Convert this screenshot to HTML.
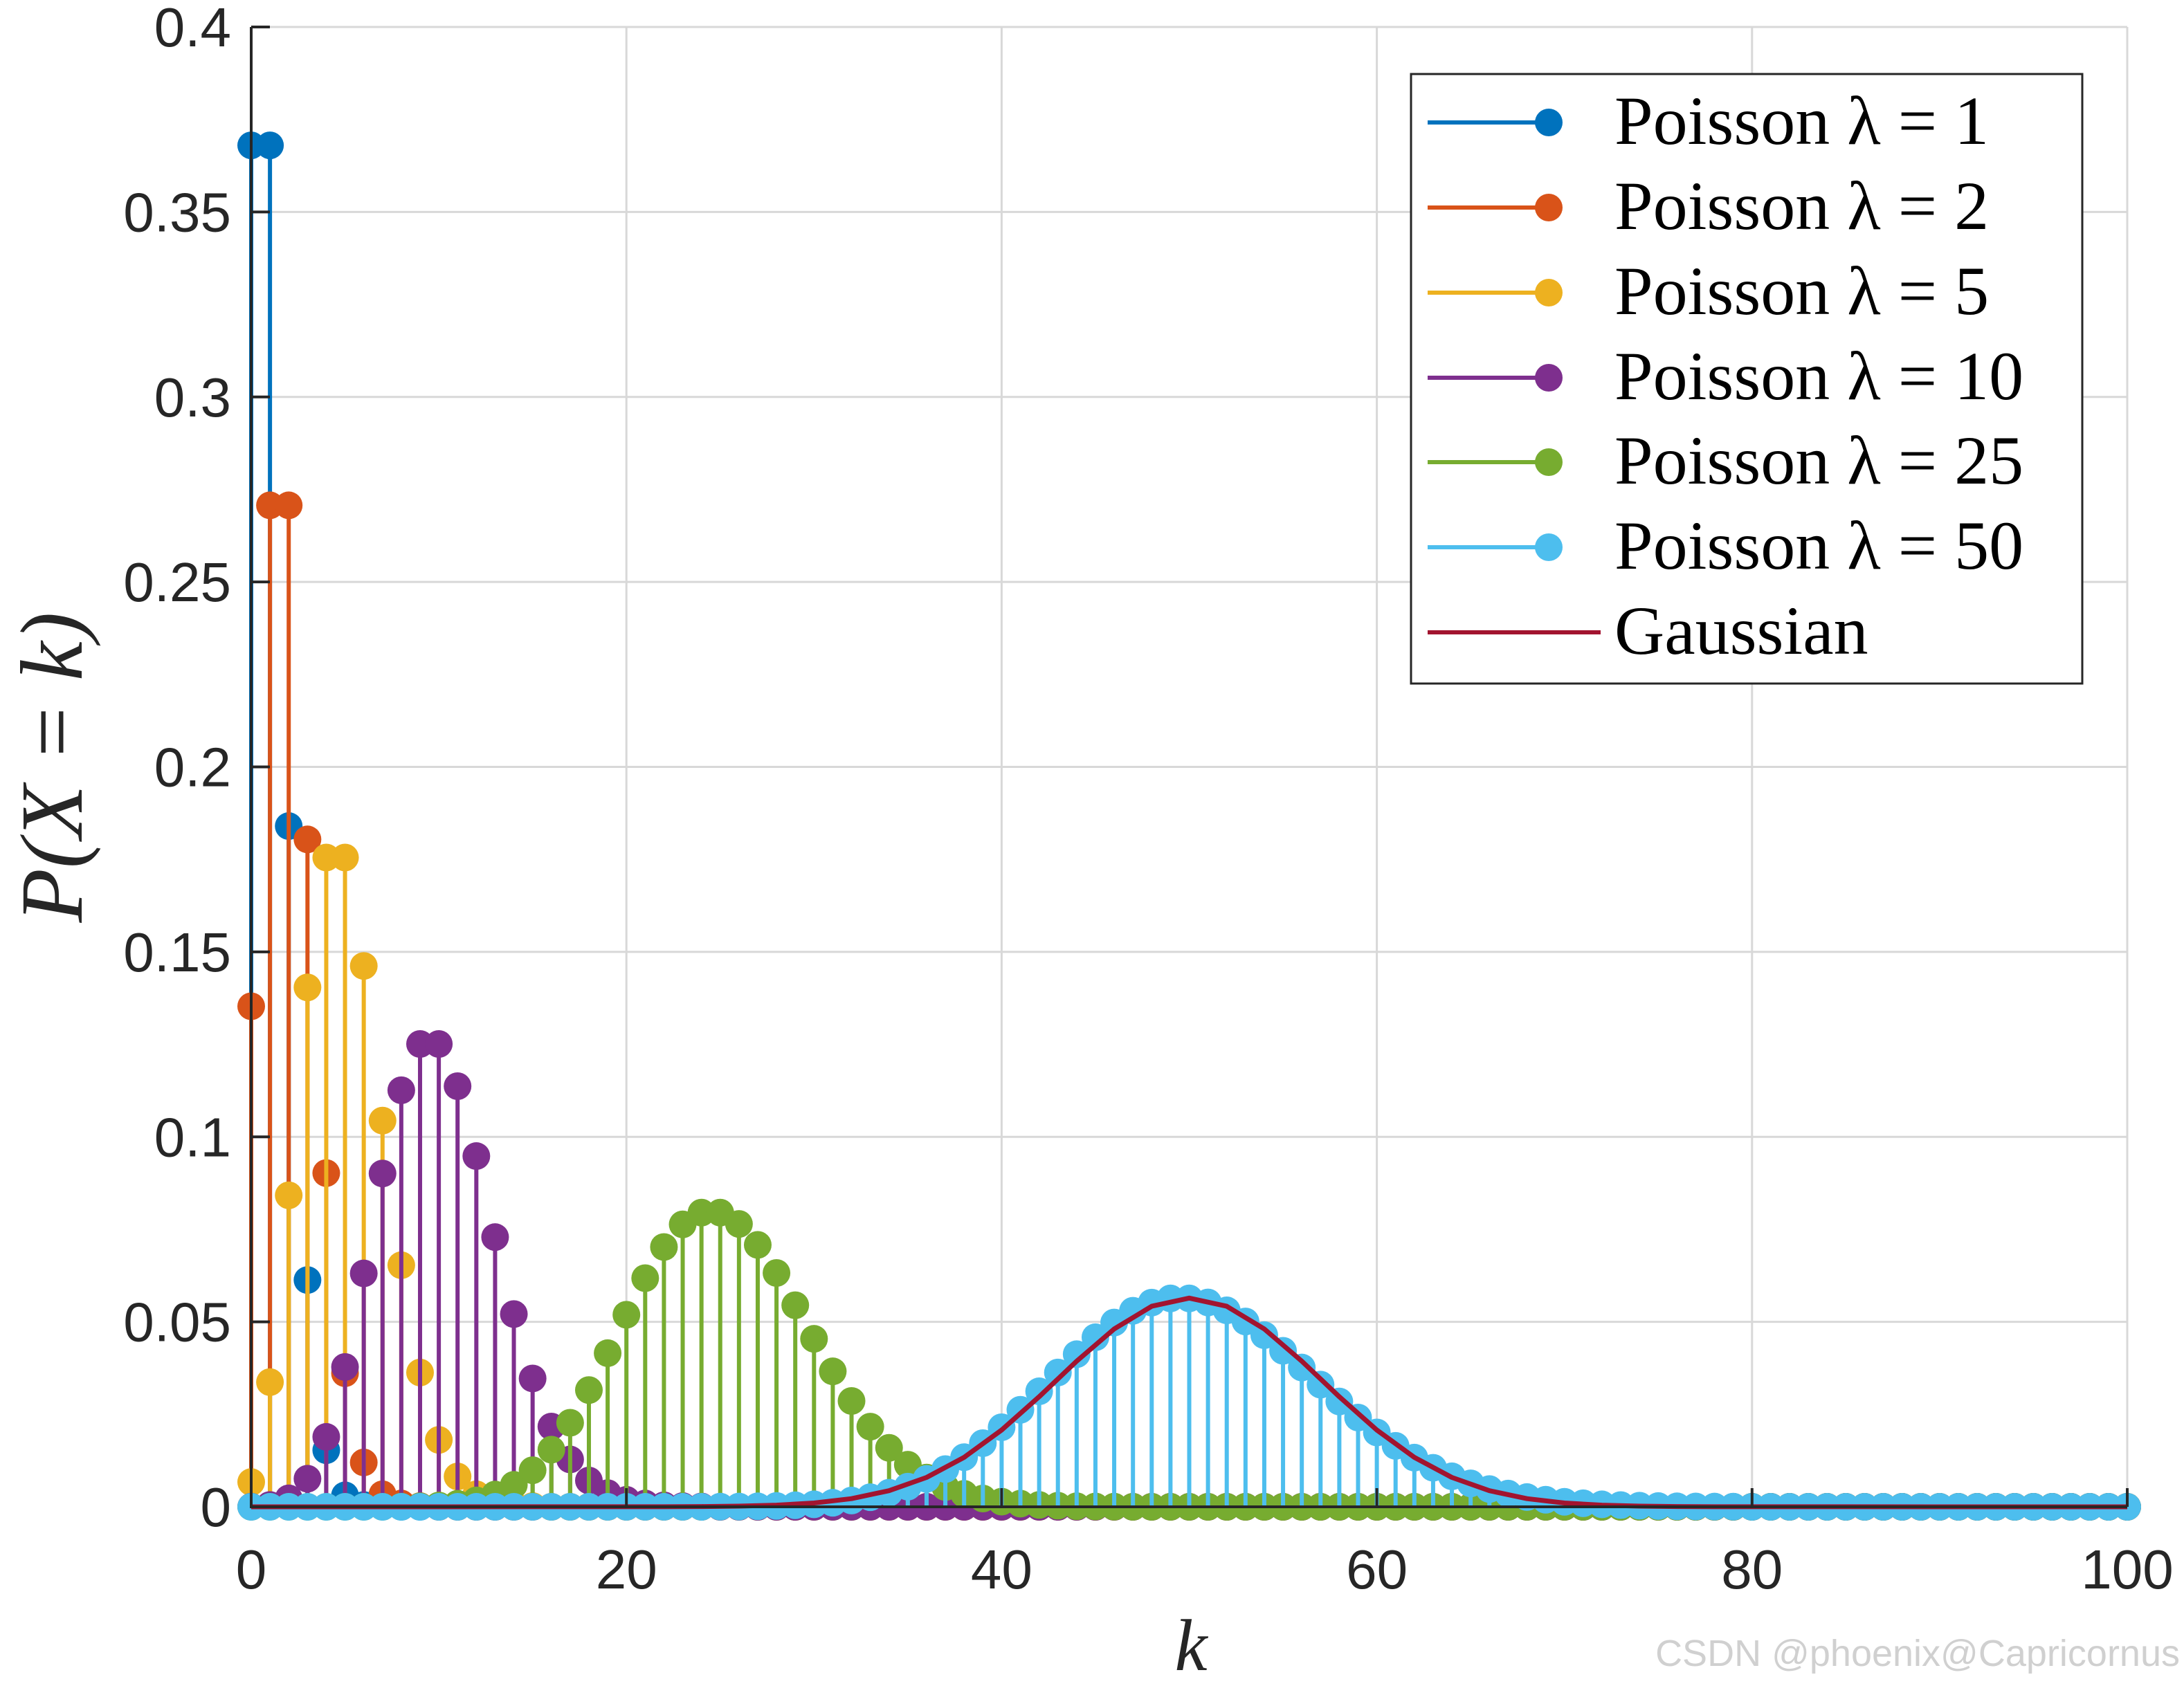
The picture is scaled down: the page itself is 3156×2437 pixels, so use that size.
<!DOCTYPE html>
<html><head><meta charset="utf-8"><style>
html,body{margin:0;padding:0;background:#fff;}
svg{display:block;}
</style></head><body>
<svg id="chart" width="3156" height="2437" viewBox="0 0 3156 2437" xmlns="http://www.w3.org/2000/svg">
<rect width="3156" height="2437" fill="#fff"/>
<g id="grid"></g>
<g id="series"></g>
<g id="axes"></g>
<g id="legend"></g>
<text x="118" y="1109" transform="rotate(-90 118 1109)" text-anchor="middle" font-family="Liberation Serif, serif" font-style="italic" font-size="128" fill="#262626">P(X = k)</text>
<text x="1721" y="2414" text-anchor="middle" font-family="Liberation Serif, serif" font-style="italic" font-size="106" fill="#262626">k</text>
<text x="3150" y="2408" text-anchor="end" font-family="Liberation Sans, sans-serif" font-size="54" fill="#d0d0d0">CSDN @phoenix@Capricornus</text>
</svg>
<script>
const xTicks=[0,20,40,60,80,100];
const xTickLabels=["0","20","40","60","80","100"];
const yTicks=[0,0.05,0.1,0.15,0.2,0.25,0.3,0.35,0.4];
const yTickLabels=["0","0.05","0.1","0.15","0.2","0.25","0.3","0.35","0.4"];
const lambdas=[1,2,5,10,25,50];
const seriesColors=["#0072BD","#D95319","#EDB120","#7E2F8E","#77AC30","#4DBEEE"];
const p1=[0.368,0.368,0.184,0.0613,0.0153,0.0031,0.0005,0.0001];
const p2=[0.1353,0.2707,0.2707,0.1804,0.0902,0.0361,0.0120,0.0034,0.0009,0.0002];
const p5=[0.0067,0.0337,0.0842,0.1404,0.1755,0.1755,0.1462,0.1044,0.0653,0.0363,0.0181,0.0082,0.0034,0.0013,0.0005,0.0002];
const p10=[0.00005,0.0005,0.0023,0.0076,0.0189,0.0378,0.0631,0.0901,0.1126,0.1251,0.1251,0.1137,0.0948,0.0729,0.0521,0.0347,0.0217,0.0128,0.0071,0.0037,0.0019,0.0009,0.0004,0.0002,0.0001];
const p25=[0,0,0,0,0,0,0,0,0.00005,0.00014,0.00036,0.00083,0.00173,0.00332,0.00593,0.00989,0.01545,0.02272,0.03156,0.04153,0.05192,0.0618,0.07023,0.07634,0.07952,0.07952,0.07646,0.0708,0.06321,0.05449,0.04541,0.03662,0.02861,0.02167,0.01594,0.01138,0.0079,0.00534,0.00351,0.00225,0.00141,0.00086,0.00051,0.0003,0.00017,0.00009,0.00005];
const p50=[0,0,0,0,0,0,0,0,0,0,0,0,0,0,0,0,0,0,0,0,0,0,0,0,0,0.00004,0.00007,0.00013,0.00024,0.00041,0.00068,0.00109,0.00171,0.00259,0.00381,0.00544,0.00755,0.0102,0.01342,0.0172,0.0215,0.02622,0.03122,0.0363,0.04125,0.04583,0.04981,0.05299,0.0552,0.05633,0.05633,0.05523,0.0531,0.0501,0.04639,0.04217,0.03765,0.03303,0.02847,0.02413,0.02011,0.01648,0.01329,0.01055,0.00824,0.00634,0.0048,0.00358,0.00263,0.00191,0.00136,0.00096,0.00067,0.00046,0.00031,0.0002,0.00013,0.00009,0.00006,0.00004];
const gaussK=[0,20,22,24,26,28,30,32,34,36,38,40,42,44,46,48,50,52,54,56,58,60,62,64,66,68,70,72,74,76,78,80,100];
const gaussVals=[0,0.00001,0.00002,0.00007,0.00018,0.00045,0.00103,0.00221,0.00436,0.00795,0.01337,0.02076,0.02975,0.03936,0.04808,0.05421,0.05642,0.05421,0.04808,0.03936,0.02975,0.02076,0.01337,0.00795,0.00436,0.00221,0.00103,0.00045,0.00018,0.00007,0.00002,0.00001,0];
</script>
<script>
const NS="http://www.w3.org/2000/svg";
const X0=363,X1=3074,Y0=2178,Y1=39;
function xs(v){return X0+(v-0)/(100-0)*(X1-X0);}
function ys(v){return Y0-(v-0)/(0.4-0)*(Y0-Y1);}
function mk(tag,attrs,parent){const e=document.createElementNS(NS,tag);for(const k in attrs)e.setAttribute(k,attrs[k]);parent.appendChild(e);return e;}
const grid=document.getElementById('grid'),axes=document.getElementById('axes'),ser=document.getElementById('series'),leg=document.getElementById('legend');
xTicks.forEach((t,i)=>{
  const g=mk('line',{x1:xs(t),x2:xs(t),y1:Y1,y2:Y0,stroke:'#d8d8d8','stroke-width':3},grid);
  
  
  const tk=mk('line',{x1:xs(t),x2:xs(t),y1:Y0,y2:Y0-27,stroke:'#262626','stroke-width':4},axes);
  
  
  const tx=mk('text',{x:xs(t),y:2296,'text-anchor':'middle','font-family':'Liberation Sans, sans-serif','font-size':80,fill:'#262626'},axes);
  tx.textContent=xTickLabels[i];
  
  
});
yTicks.forEach((t,i)=>{
  const g=mk('line',{x1:X0,x2:X1,y1:ys(t),y2:ys(t),stroke:'#d8d8d8','stroke-width':3},grid);
  
  
  const tk=mk('line',{x1:X0,x2:X0+27,y1:ys(t),y2:ys(t),stroke:'#262626','stroke-width':4},axes);
  
  
  const tx=mk('text',{x:334,y:ys(t)+28,'text-anchor':'end','font-family':'Liberation Sans, sans-serif','font-size':80,fill:'#262626'},axes);
  tx.textContent=yTickLabels[i];
  
  
});
const yax=mk('line',{x1:X0,x2:X0,y1:Y1,y2:Y0+2,stroke:'#262626','stroke-width':4},axes);


const xax=mk('line',{x1:X0-2,x2:X1,y1:Y0,y2:Y0,stroke:'#262626','stroke-width':4},axes);


const allP=[p1,p2,p5,p10,p25,p50];
allP.forEach((arr,si)=>{
  const g=mk('g',{},ser);
  
  
  const c=seriesColors[si];
  for(let k=0;k<=100;k++){
    const v=k<arr.length?arr[k]:0;
    if(v>0){
      const s=mk('line',{x1:xs(k),x2:xs(k),y1:Y0,y2:ys(v),stroke:c,'stroke-width':6},g);
      
      
    }
  }
  for(let k=0;k<=100;k++){
    const v=k<arr.length?arr[k]:0;
    const m=mk('circle',{cx:xs(k),cy:ys(v),r:20,fill:c},g);
    
    
  }
});
let d='';
gaussK.forEach((k,i)=>{d+=(i?'L':'M')+xs(k).toFixed(1)+' '+ys(gaussVals[i]).toFixed(1);});
const gl=mk('path',{d:d,fill:'none',stroke:'#A2142F','stroke-width':7,'stroke-linejoin':'round'},ser);


const box=mk('rect',{x:2039,y:107,width:970,height:881,fill:'#fff',stroke:'#262626','stroke-width':3},leg);


const labels=["1","2","5","10","25","50"];
const rowsY=[177,300,423,546,668,791,914];
for(let i=0;i<7;i++){
  const y=rowsY[i];
  const c=i<6?seriesColors[i]:'#A2142F';
  const ln=mk('line',{x1:2063,x2:i<6?2238:2313,y1:y,y2:y,stroke:c,'stroke-width':6},leg);
  
  
  if(i<6){
    const cm=mk('circle',{cx:2238,cy:y,r:20,fill:c},leg);
    
    
  }
  const t=mk('text',{x:2333,y:y+31,'font-family':'Liberation Serif, serif','font-size':100,fill:'#000'},leg);
  t.textContent=i<6?('Poisson \u03BB = '+labels[i]):'Gaussian';
  
  
}
</script>
</body></html>
